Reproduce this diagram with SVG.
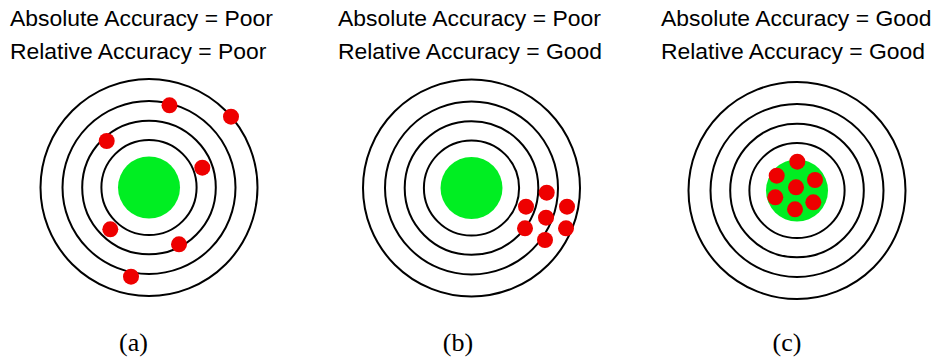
<svg xmlns="http://www.w3.org/2000/svg" width="934" height="361" viewBox="0 0 934 361">
<style>
.t{font-family:"Liberation Sans",Arial,sans-serif;font-size:22.9px;fill:#000}
.cap{font-family:"Liberation Serif","Times New Roman",serif;font-size:26px;fill:#000;text-anchor:middle}
.ring{fill:none;stroke:#000;stroke-width:2}
.bull{fill:#00ee22}
.hit{fill:#ee0000}
</style>
<defs>
<g id="target">
<circle class="ring" r="108.5"/>
<circle class="ring" r="86.5"/>
<circle class="ring" r="66.8"/>
<circle class="ring" r="47.6"/>
<circle class="bull" r="31"/>
</g>
</defs>
<g id="panel-a">
<text class="t" x="10" y="26">Absolute Accuracy = Poor</text>
<text class="t" x="10" y="59">Relative Accuracy = Poor</text>
<use href="#target" x="149" y="187.5"/>
<g class="hit">
<circle cx="169.5" cy="105.3" r="8"/>
<circle cx="231" cy="116.7" r="8"/>
<circle cx="106.7" cy="141" r="8"/>
<circle cx="202.3" cy="167.7" r="8"/>
<circle cx="110.3" cy="229.3" r="8"/>
<circle cx="179" cy="244.3" r="8"/>
<circle cx="131" cy="276.7" r="8"/>
</g>
<text class="cap" x="133.5" y="351">(a)</text>
</g>
<g id="panel-b">
<text class="t" x="338" y="26">Absolute Accuracy = Poor</text>
<text class="t" x="338" y="59">Relative Accuracy = Good</text>
<use href="#target" x="471.5" y="188"/>
<g class="hit">
<circle cx="546.7" cy="192.7" r="8"/>
<circle cx="526" cy="206.7" r="8"/>
<circle cx="567" cy="206.7" r="8"/>
<circle cx="546" cy="217.7" r="8"/>
<circle cx="525" cy="228.3" r="8"/>
<circle cx="566" cy="228.3" r="8"/>
<circle cx="545" cy="240" r="8"/>
</g>
<text class="cap" x="458" y="351">(b)</text>
</g>
<g id="panel-c">
<text class="t" x="661" y="26">Absolute Accuracy = Good</text>
<text class="t" x="661" y="59">Relative Accuracy = Good</text>
<use href="#target" x="797" y="190.5"/>
<g class="hit">
<circle cx="797.3" cy="161.7" r="8"/>
<circle cx="776.7" cy="175.7" r="8"/>
<circle cx="815" cy="180" r="8"/>
<circle cx="796" cy="187.3" r="8"/>
<circle cx="775.3" cy="197.3" r="8"/>
<circle cx="813.3" cy="202.3" r="8"/>
<circle cx="795" cy="209.3" r="8"/>
</g>
<text class="cap" x="787" y="351">(c)</text>
</g>
</svg>
